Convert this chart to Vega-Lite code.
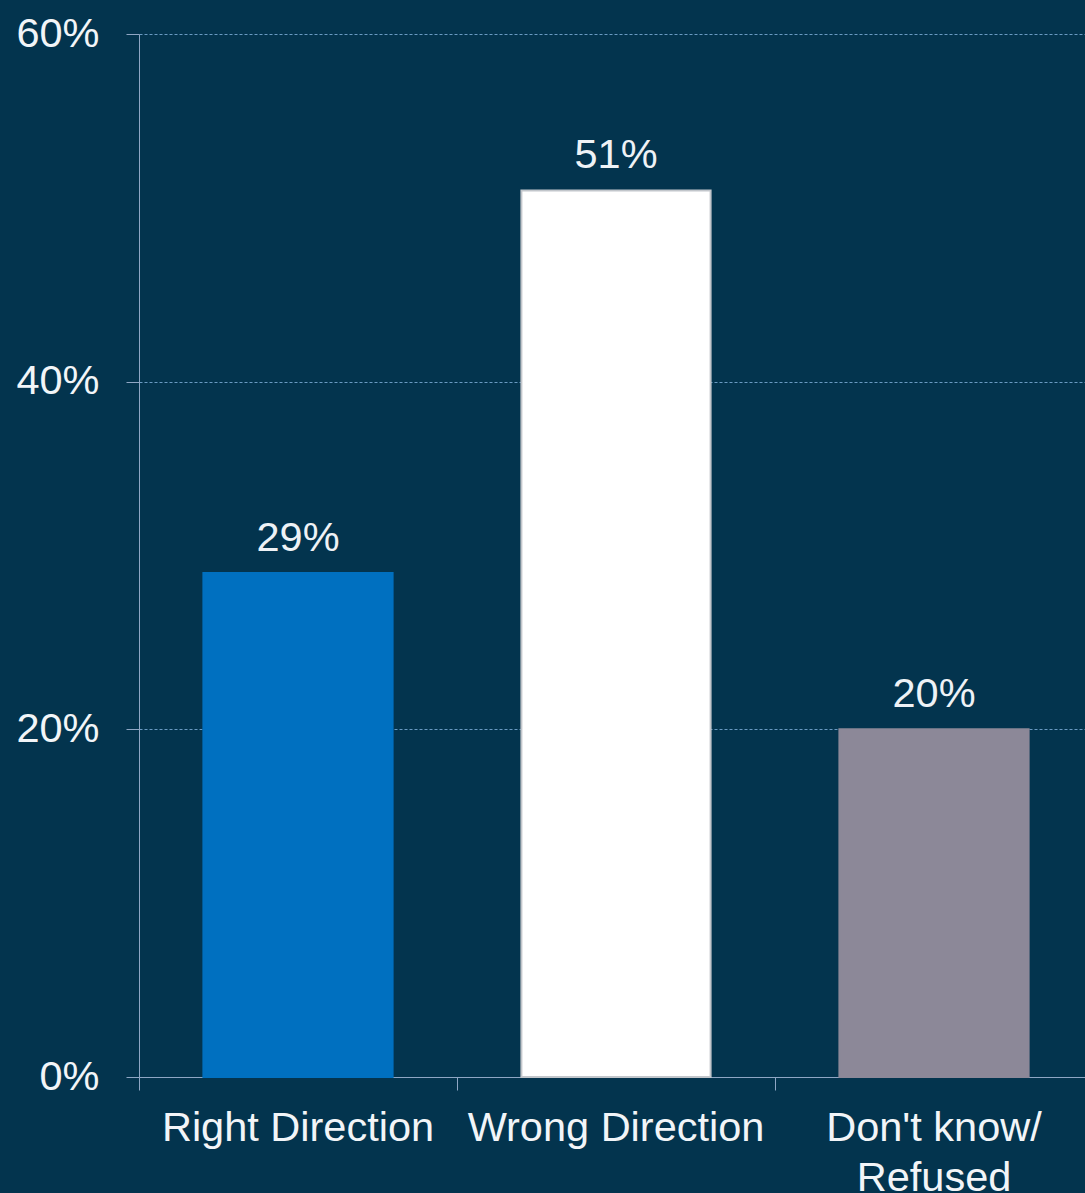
{
  "$schema": "https://vega.github.io/schema/vega-lite/v6.json",
  "width": 954,
  "height": 1043,
  "autosize": {"type": "none"},
  "padding": {"left": 139, "top": 34, "right": 0, "bottom": 116},
  "background": "#03344e",
  "config": {"view": {"stroke": null}, "font": "Liberation Sans"},
  "data": {
    "values": [
      {"category": "Right Direction", "value": 0.29},
      {"category": "Wrong Direction", "value": 0.51},
      {"category": "Don't know/Refused", "value": 0.20}
    ]
  },
  "encoding": {
    "x": {
      "field": "category",
      "type": "nominal",
      "sort": null,
      "scale": {"paddingInner": 0, "paddingOuter": 0},
      "axis": {
        "title": null,
        "bandPosition": 0,
        "labelAngle": 0,
        "tickSize": 13,
        "tickColor": "#8fa6c4",
        "domainColor": "#8fa6c4",
        "labelPadding": 17,
        "labelFontSize": 41.5,
        "labelColor": "#f2f5f8",
        "labelLimit": 0,
        "labelOverlap": false,
        "labelBound": false,
        "labelLineHeight": 50,
        "labelExpr": "datum.label == \"Don't know/Refused\" ? [\"Don't know/\", \"Refused\"] : datum.label",
        "grid": false
      }
    },
    "y": {
      "field": "value",
      "type": "quantitative",
      "scale": {"domain": [0, 0.6]},
      "axis": {
        "title": null,
        "values": [0, 0.2, 0.4, 0.6],
        "format": ".0%",
        "tickSize": 13,
        "tickColor": "#8fa6c4",
        "domainColor": "#8fa6c4",
        "labelPadding": 27,
        "labelFontSize": 41.5,
        "labelColor": "#f2f5f8",
        "grid": true,
        "gridDash": [3, 2],
        "gridColor": "#6a9ac2",
        "gridWidth": 1
      }
    }
  },
  "layer": [
    {
      "mark": {"type": "bar", "width": {"band": 0.595}, "strokeWidth": 2},
      "encoding": {
        "color": {
          "field": "category",
          "type": "nominal",
          "scale": {
            "domain": ["Right Direction", "Wrong Direction", "Don't know/Refused"],
            "range": ["#0070c0", "#ffffff", "#8c8898"]
          },
          "legend": null
        },
        "stroke": {
          "field": "category",
          "type": "nominal",
          "scale": {
            "domain": ["Right Direction", "Wrong Direction", "Don't know/Refused"],
            "range": ["#0070c0", "#c2c6cb", "#8c8898"]
          },
          "legend": null
        }
      }
    },
    {
      "mark": {"type": "text", "dy": -22, "baseline": "alphabetic", "fontSize": 41.5, "color": "#eef2f6"},
      "encoding": {"text": {"field": "value", "type": "quantitative", "format": ".0%"}}
    }
  ]
}
